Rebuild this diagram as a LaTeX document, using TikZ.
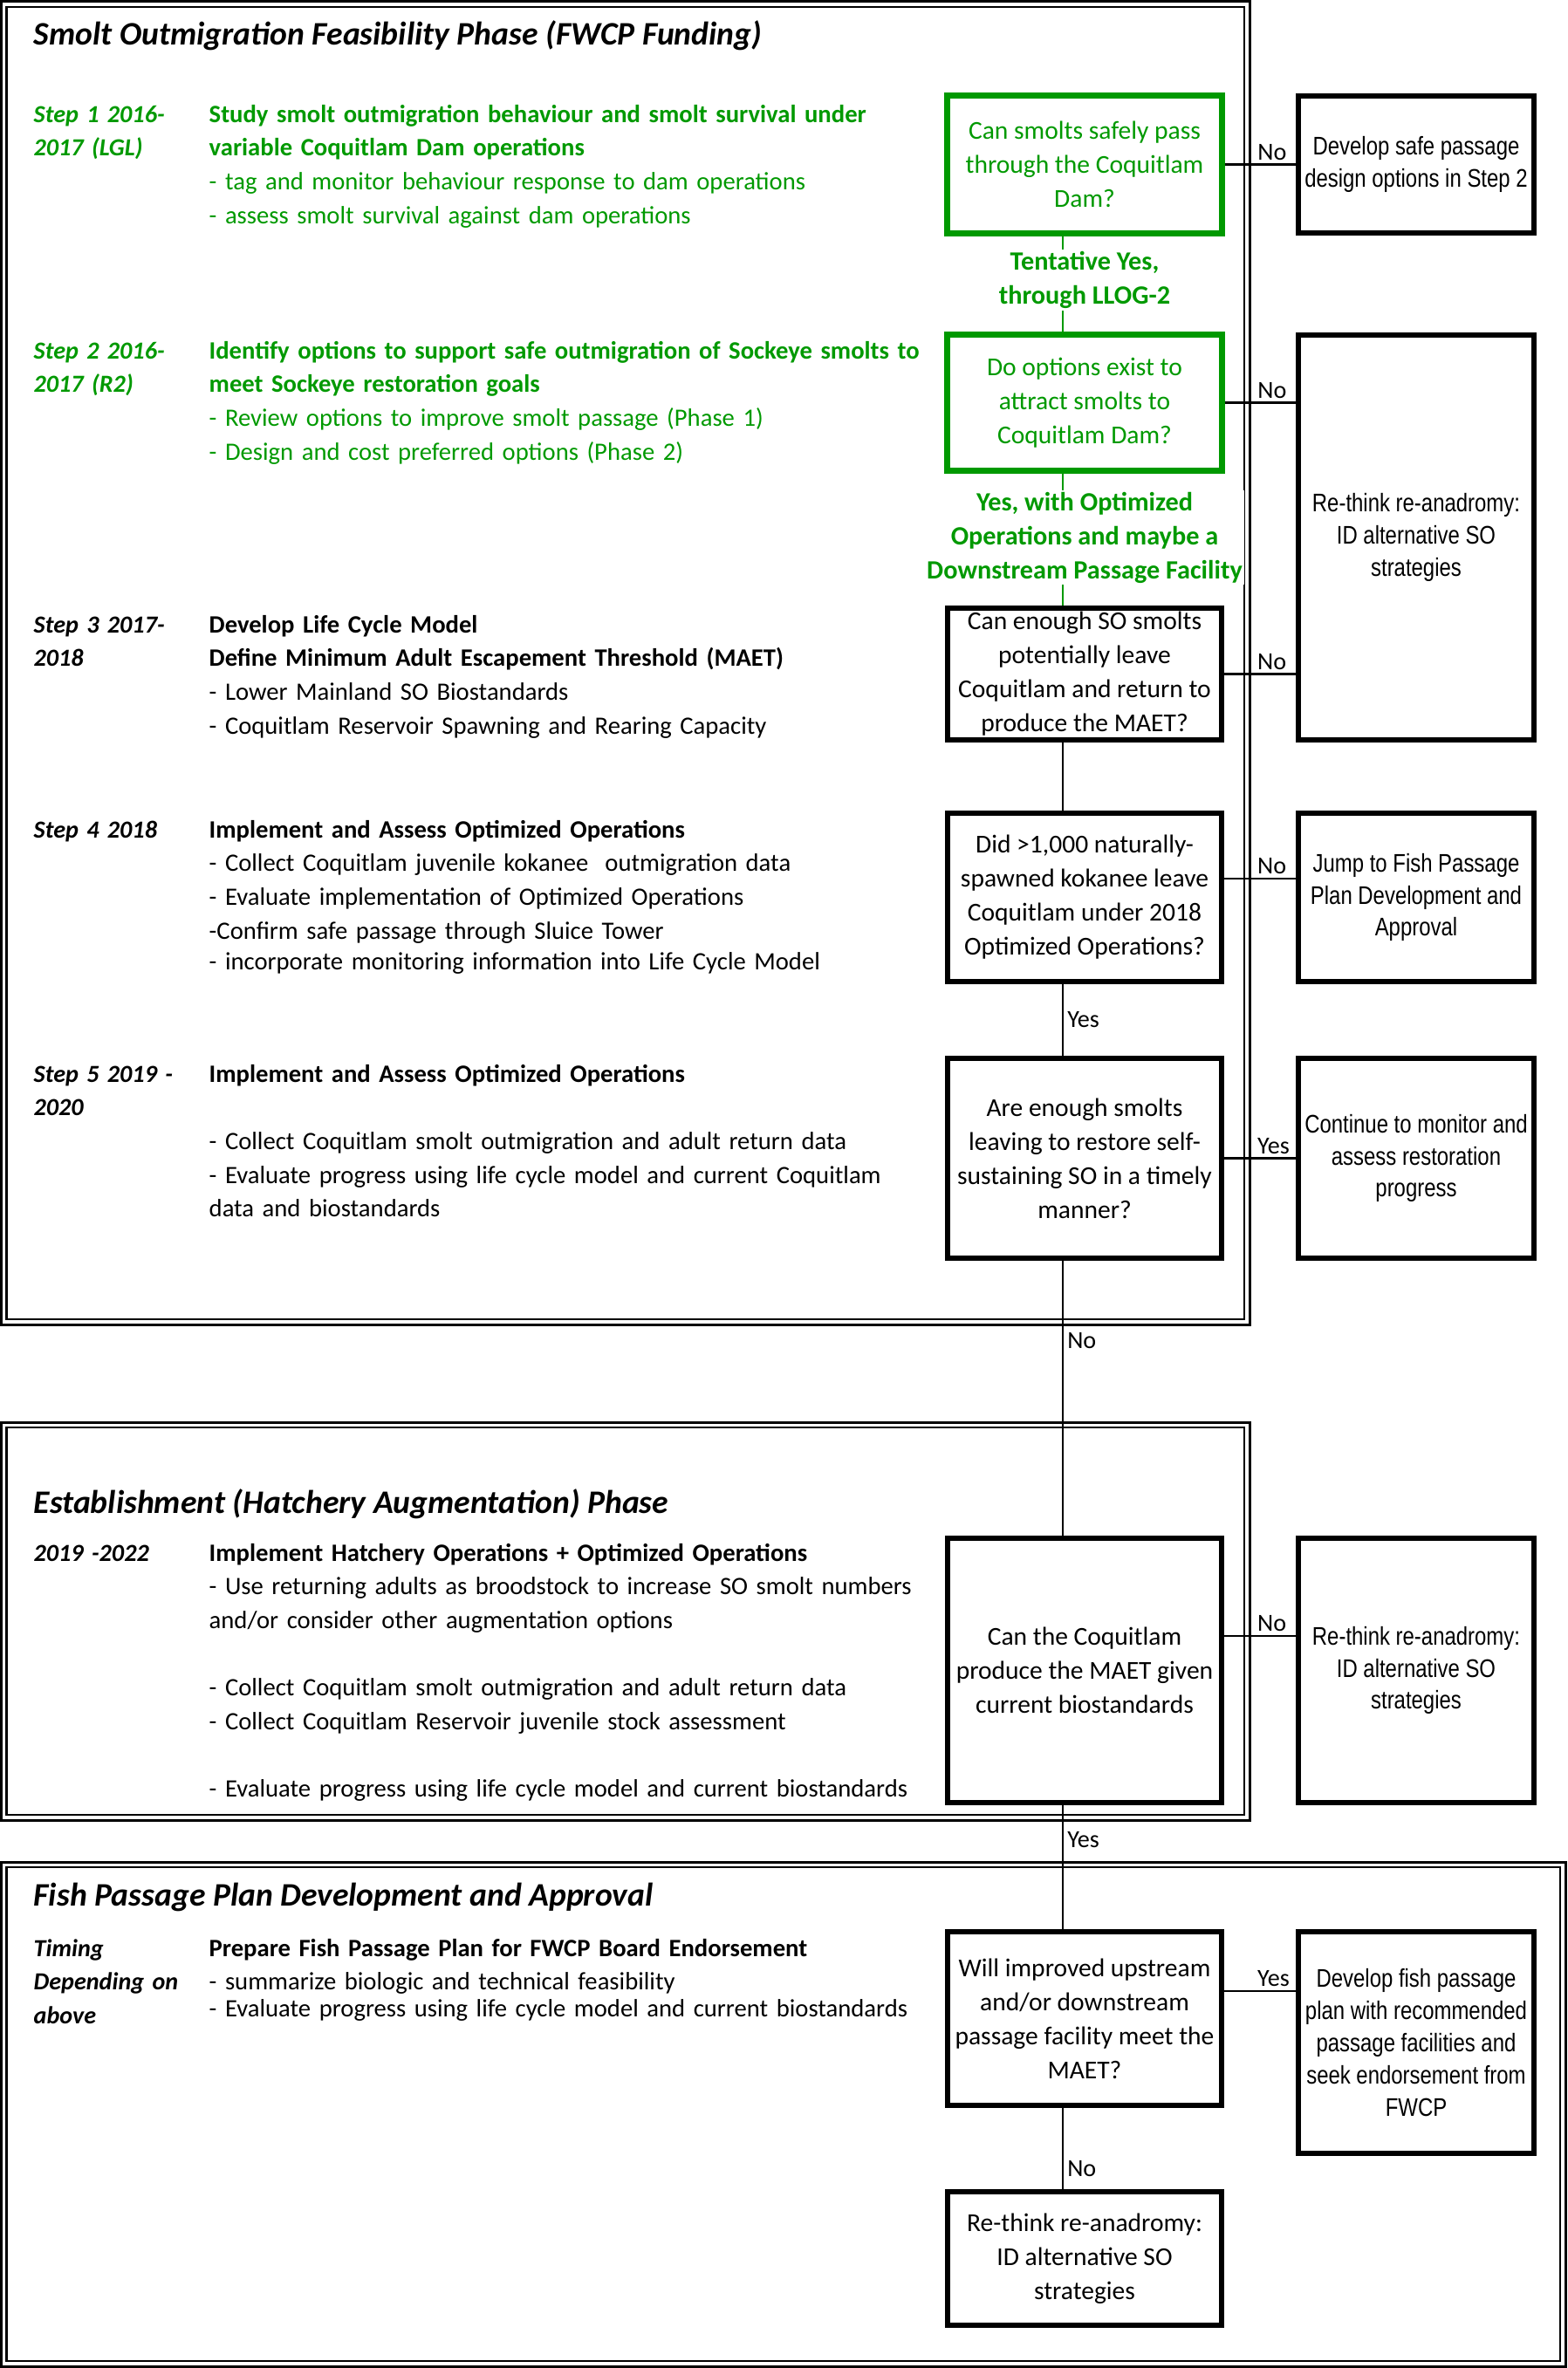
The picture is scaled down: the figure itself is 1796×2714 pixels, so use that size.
\documentclass[tikz,border=0pt]{standalone}
\usepackage{fontspec}
\setmainfont{Carlito}
\newfontfamily\narrowfont[FakeStretch=0.82]{Liberation Sans}
\definecolor{fwgreen}{RGB}{0,153,0}

\begin{document}
\begin{tikzpicture}[x=0.01cm,y=-0.01cm,
    bodytext/.style={font=\fontsize{8.15}{11}\selectfont, anchor=base west, inner sep=0pt, text width=9cm, align=left},
    steplabel/.style={font=\fontsize{8}{11}\selectfont\bfseries\itshape, anchor=base west, inner sep=0pt, text width=2cm, align=left},
    phasetitle/.style={font=\fontsize{10.7}{13}\selectfont\bfseries\itshape, anchor=base west, inner sep=0pt},
    qbox/.style={draw, line width=0.06cm, fill=white, minimum width=3.14cm, inner sep=0pt, align=center, font=\fontsize{8.4}{11.1}\selectfont},
    greenbox/.style={qbox, draw=fwgreen, line width=0.07cm, text=fwgreen},
    rbox/.style={draw, line width=0.06cm, fill=white, minimum width=2.70cm, inner sep=0pt, align=center, font=\narrowfont\fontsize{8.3}{10.5}\selectfont},
    frameout/.style={line width=0.03cm},
    framein/.style={line width=0.02cm},
    link/.style={line width=0.025cm},
    greenlink/.style={link, draw=fwgreen},
    branch/.style={font=\fontsize{8}{10.8}\selectfont, inner sep=0.04cm},
    greenbranch/.style={font=\fontsize{8.6}{11.1}\selectfont\bfseries, text=fwgreen, fill=white, inner sep=0.02cm, align=center}]
    \useasboundingbox (0,0) rectangle (1796,2714);

    % Phase frames (double lines)
    \draw[frameout] (1.5,1.5) rectangle (1432,1518);
    \draw[framein] (7.5,7.5) rectangle (1426,1512);
    \draw[frameout] (1.5,1630) rectangle (1432,2086);
    \draw[framein] (7.5,1636) rectangle (1426,2080);
    \draw[frameout] (1.5,2134) rectangle (1794,2712);
    \draw[framein] (7.5,2140) rectangle (1788,2706);

    % Phase titles
    \node[phasetitle] (title1) at (38,51) {Smolt Outmigration Feasibility Phase (FWCP Funding)};
    \node[phasetitle] (title2) at (38,1734) {Establishment (Hatchery Augmentation) Phase};
    \node[phasetitle] (title3) at (38,2184) {Fish Passage Plan Development and Approval};

    % Steps of the feasibility phase
    \node[steplabel, text=fwgreen] (step1) at (38,140) {Step 1 2016-\\2017 (LGL)};
    \node[bodytext, text=fwgreen] (step1txt) at (239,140) {\textbf{Study smolt outmigration behaviour and smolt survival under}\\
        \textbf{variable Coquitlam Dam operations}\\
        - tag and monitor behaviour response to dam operations\\
        - assess smolt survival against dam operations};
    \node[steplabel, text=fwgreen] (step2) at (38,411) {Step 2 2016-\\2017 (R2)};
    \node[bodytext, text=fwgreen] (step2txt) at (239,411) {\textbf{Identify options to support safe outmigration of Sockeye smolts to}\\
        \textbf{meet Sockeye restoration goals}\\
        - Review options to improve smolt passage (Phase 1)\\
        - Design and cost preferred options (Phase 2)};
    \node[steplabel] (step3) at (38,725) {Step 3 2017-\\2018};
    \node[bodytext] (step3txt) at (239,725) {\textbf{Develop Life Cycle Model}\\
        \textbf{Define Minimum Adult Escapement Threshold (MAET)}\\
        - Lower Mainland SO Biostandards\\
        - Coquitlam Reservoir Spawning and Rearing Capacity};
    \node[steplabel] (step4) at (38,960) {Step 4 2018};
    \node[bodytext] (step4txt) at (239,960) {\textbf{Implement and Assess Optimized Operations}\\
        - Collect Coquitlam juvenile kokanee\ \ outmigration data\\
        - Evaluate implementation of Optimized Operations\\
        -Confirm safe passage through Sluice Tower\\[-1pt]
        - incorporate monitoring information into Life Cycle Model};
    \node[steplabel] (step5) at (38,1240) {Step 5 2019 -\\2020};
    \node[bodytext] (step5txt) at (239,1240) {\textbf{Implement and Assess Optimized Operations}\\[11pt]
        - Collect Coquitlam smolt outmigration and adult return data\\
        - Evaluate progress using life cycle model and current Coquitlam\\
        data and biostandards};

    % Establishment phase
    \node[steplabel] (step6) at (38,1789) {2019 -2022};
    \node[bodytext] (step6txt) at (239,1789) {\textbf{Implement Hatchery Operations + Optimized Operations}\\
        - Use returning adults as broodstock to increase SO smolt numbers\\
        and/or consider other augmentation options\\[11pt]
        - Collect Coquitlam smolt outmigration and adult return data\\
        - Collect Coquitlam Reservoir juvenile stock assessment\\[11pt]
        - Evaluate progress using life cycle model and current biostandards};

    % Fish passage phase
    \node[steplabel] (step7) at (38,2242) {Timing\\Depending on\\above};
    \node[bodytext] (step7txt) at (239,2242) {\textbf{Prepare Fish Passage Plan for FWCP Board Endorsement}\\
        - summarize biologic and technical feasibility};
    \node[bodytext] (step7eval) at (239,2311) {- Evaluate progress using life cycle model and current biostandards};

    % Decision boxes
    \coordinate (spine) at (1218,0);
    \node[greenbox, minimum height=1.57cm] (q1) at (1243,188.5) {Can smolts safely pass\\through the Coquitlam\\Dam?};
    \node[greenbox, minimum height=1.55cm] (q2) at (1243,461.5) {Do options exist to\\attract smolts to\\Coquitlam Dam?};
    \node[qbox, minimum height=1.51cm] (q3) at (1243,772.5) {Can enough SO smolts\\potentially leave\\Coquitlam and return to\\produce the MAET?};
    \node[qbox, minimum height=1.93cm] (q4) at (1243,1028.5) {Did >1,000 naturally-\\spawned kokanee leave\\Coquitlam under 2018\\Optimized Operations?};
    \node[qbox, minimum height=2.29cm] (q5) at (1243,1327.5) {Are enough smolts\\leaving to restore self-\\sustaining SO in a timely\\manner?};
    \node[qbox, minimum height=3.03cm] (q6) at (1243,1914.5) {Can the Coquitlam\\produce the MAET given\\current biostandards};
    \node[qbox, minimum height=1.99cm] (q7) at (1243,2313.5) {Will improved upstream\\and/or downstream\\passage facility meet the\\MAET?};
    \node[qbox, minimum height=1.53cm] (q8) at (1243,2588.5) {Re-think re-anadromy:\\ID alternative SO\\strategies};

    % Outcome boxes
    \node[rbox, minimum height=1.57cm] (r1) at (1623,188.5) {Develop safe passage\\design options in Step 2};
    \node[rbox, minimum height=4.64cm] (r2) at (1623,616) {Re-think re-anadromy:\\ID alternative SO\\strategies};
    \node[rbox, minimum height=1.93cm] (r4) at (1623,1028.5) {Jump to Fish Passage\\Plan Development and\\Approval};
    \node[rbox, minimum height=2.29cm] (r5) at (1623,1327.5) {Continue to monitor and\\assess restoration\\progress};
    \node[rbox, minimum height=3.03cm] (r6) at (1623,1914.5) {Re-think re-anadromy:\\ID alternative SO\\strategies};
    \node[rbox, minimum height=2.54cm] (r7) at (1623,2341) {Develop fish passage\\plan with recommended\\passage facilities and\\seek endorsement from\\FWCP};

    % Main line down the decisions
    \draw[greenlink] (q1.south -| spine) -- (q2.north -| spine);
    \node[greenbranch] (tentative) at (1243,321) {Tentative Yes,\\through LLOG-2};
    \draw[greenlink] (q2.south -| spine) -- (q3.north -| spine);
    \node[greenbranch] (optimized) at (1243,616) {Yes, with Optimized\\Operations and maybe a\\Downstream Passage Facility};
    \draw[link] (q3.south -| spine) -- (q4.north -| spine);
    \draw[link] (q4.south -| spine) -- (q5.north -| spine) node[branch, pos=0.49, anchor=west] {Yes};
    \draw[link] (q5.south -| spine) -- (q6.north -| spine) node[branch, pos=0.29, anchor=west] {No};
    \draw[link] (q6.south -| spine) -- (q7.north -| spine) node[branch, pos=0.28, anchor=west] {Yes};
    \draw[link] (q7.south -| spine) -- (q8.north -| spine) node[branch, pos=0.75, anchor=west] {No};

    % Side branches
    \coordinate (q1out) at (q1.east);
    \coordinate (q2out) at (q2.east);
    \coordinate (q3out) at (q3.east);
    \coordinate (q4out) at ([yshift=0.215cm]q4.east);
    \coordinate (q5out) at (q5.east);
    \coordinate (q6out) at ([yshift=0.395cm]q6.east);
    \coordinate (q7out) at ([yshift=0.315cm]q7.east);
    \draw[link] (q1out) -- (q1out -| r1.west) node[branch, pos=0.4, anchor=south west] {No};
    \draw[link] (q2out) -- (q2out -| r2.west) node[branch, pos=0.4, anchor=south west] {No};
    \draw[link] (q3out) -- (q3out -| r2.west) node[branch, pos=0.4, anchor=south west] {No};
    \draw[link] (q4out) -- (q4out -| r4.west) node[branch, pos=0.4, anchor=south west] {No};
    \draw[link] (q5out) -- (q5out -| r5.west) node[branch, pos=0.4, anchor=south west] {Yes};
    \draw[link] (q6out) -- (q6out -| r6.west) node[branch, pos=0.4, anchor=south west] {No};
    \draw[link] (q7out) -- (q7out -| r7.west) node[branch, pos=0.4, anchor=south west] {Yes};
\end{tikzpicture}
\end{document}
